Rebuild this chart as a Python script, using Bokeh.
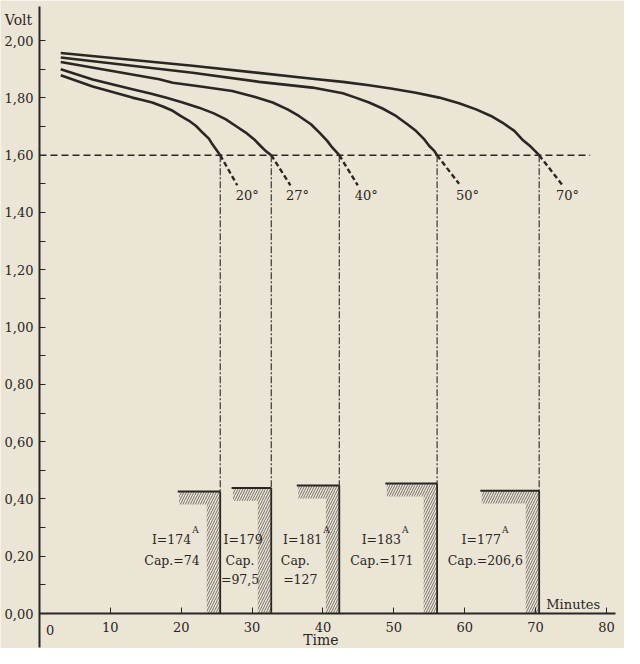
from bokeh.plotting import figure
from bokeh.models import Range1d, LinearAxis, FixedTicker, CustomJSTickFormatter
from bokeh.core.properties import value
from bokeh.embed import file_html
from bokeh.resources import INLINE

# ---- data ----
temps = ["20°", "27°", "40°", "50°", "70°"]

c20_t = [3.0, 7.5, 13.1, 14.5, 15.9, 17.4, 18.8, 19.9, 21.1, 22.1, 23.0, 23.9, 24.4, 25.0, 25.5]
c20_v = [1.879, 1.840, 1.801, 1.793, 1.784, 1.770, 1.755, 1.737, 1.720, 1.702, 1.679, 1.658, 1.638, 1.617, 1.600]
c27_t = [3.0, 7.5, 13.1, 15.5, 17.8, 20.2, 22.5, 24.6, 26.3, 27.7, 29.1, 30.3, 31.2, 31.9, 32.7]
c27_v = [1.900, 1.864, 1.830, 1.816, 1.801, 1.784, 1.766, 1.746, 1.725, 1.702, 1.679, 1.655, 1.632, 1.615, 1.600]
c40_t = [3.0, 16.9, 18.8, 23.0, 27.2, 30.3, 32.9, 35.0, 36.6, 38.3, 39.5, 40.6, 41.3, 42.3]
c40_v = [1.925, 1.865, 1.853, 1.839, 1.824, 1.804, 1.784, 1.760, 1.737, 1.708, 1.679, 1.650, 1.627, 1.600]
c50_t = [3.0, 21.6, 31.0, 38.5, 42.8, 44.6, 46.5, 48.4, 50.3, 51.9, 53.1, 54.3, 55.0, 55.7, 56.1]
c50_v = [1.941, 1.888, 1.856, 1.836, 1.816, 1.801, 1.784, 1.763, 1.737, 1.708, 1.685, 1.655, 1.632, 1.615, 1.600]
c70_t = [3.0, 21.6, 38.5, 42.8, 46.5, 49.8, 53.1, 56.4, 59.2, 61.6, 63.7, 65.3, 67.0, 68.1, 69.3, 70.5]
c70_v = [1.957, 1.912, 1.867, 1.856, 1.844, 1.832, 1.818, 1.801, 1.781, 1.760, 1.737, 1.714, 1.685, 1.655, 1.630, 1.600]

end_t = [25.5, 32.7, 42.3, 56.1, 70.5]          # minutes to reach 1,60 V
cutoff_v = 1.60
cont_t = [27.9, 35.4, 44.9, 59.2, 73.8]         # dashed continuation ends
cont_v = [1.495, 1.495, 1.495, 1.500, 1.495]
deg_t = [29.3, 36.4, 46.1, 60.4, 74.5]
deg_v = 1.461
hline_end = 77.7

bar_left = [19.5, 27.1, 36.3, 48.8, 62.2]
bar_top = [0.426, 0.438, 0.447, 0.454, 0.429]

i_text = ["I=174", "I=179", "I=181", "I=183", "I=177"]
i_right = [21.4, 31.5, 39.9, 51.0, 65.1]
i_sup = ["A", "", "A", "A", "A"]
cap_text = ["Cap.=74", "Cap.", "Cap.", "Cap.=171", "Cap.=206,6"]
cap_x = [18.7, 28.3, 36.1, 48.3, 62.9]
cap2_text = ["=97,5", "=127"]
cap2_x = [28.3, 36.8]

y_ticks = [0.0, 0.2, 0.4, 0.6, 0.8, 1.0, 1.2, 1.4, 1.6, 1.8, 2.0]
y_minor = [0.1, 0.3, 0.5, 0.7, 0.9, 1.1, 1.3, 1.5, 1.7, 1.9]
x_ticks = [0, 10, 20, 30, 40, 50, 60, 70, 80]

# ---- styling ----
INK = "#2a2723"
PAPER = "#ebe5d6"
HATCH = "#55504a"
FONT = "DejaVu Serif"

p = figure(width=624, height=648, output_backend="svg", toolbar_location=None,
           x_range=Range1d(-5.50, 82.54), y_range=Range1d(-0.122, 2.14),
           x_axis_location=None, y_axis_location=None,
           min_border=0, outline_line_color=None,
           background_fill_color=PAPER, border_fill_color=PAPER)
p.xgrid.visible = False
p.ygrid.visible = False

yax = LinearAxis(ticker=FixedTicker(ticks=y_ticks, minor_ticks=y_minor),
                 formatter=CustomJSTickFormatter(code="return tick.toFixed(2).replace('.', ',')"))
yax.fixed_location = 0
yax.bounds = (-0.12, 2.12)
yax.major_tick_in = 6
yax.major_tick_out = 0
yax.minor_tick_in = 6
yax.minor_tick_out = 0
yax.axis_line_width = 2
yax.axis_line_color = INK
yax.major_tick_line_color = INK
yax.minor_tick_line_color = INK
yax.major_label_standoff = 6
yax.major_label_text_font = FONT
yax.major_label_text_font_size = "13px"
yax.major_label_text_color = INK
p.add_layout(yax, "left")

xax = LinearAxis(ticker=FixedTicker(ticks=x_ticks, minor_ticks=[]),
                 formatter=CustomJSTickFormatter(code="return tick == 0 ? '' : tick.toFixed(0)"))
xax.fixed_location = 0
xax.bounds = (0, 81.3)
xax.major_tick_in = 6
xax.major_tick_out = 0
xax.axis_line_width = 2
xax.axis_line_color = INK
xax.major_tick_line_color = INK
xax.major_label_standoff = 8
xax.major_label_text_font = FONT
xax.major_label_text_font_size = "13px"
xax.major_label_text_color = INK
p.add_layout(xax, "below")

# horizontal 1,60 V line
p.segment(x0=[0], y0=[cutoff_v], x1=[hline_end], y1=[cutoff_v],
          line_color=INK, line_width=1.5, line_dash="7 4")

# bars (inverted L shapes, hatched)
n = len(end_t)
p.quad(left=[l + 0.2 for l in bar_left], right=end_t,
       top=bar_top, bottom=[t - 0.045 for t in bar_top],
       fill_color=None, line_color=None, hatch_pattern="/",
       hatch_color=HATCH, hatch_scale=5, hatch_weight=0.8)
p.quad(left=[e - 1.9 for e in end_t], right=end_t,
       top=[t - 0.045 for t in bar_top], bottom=[0] * n,
       fill_color=None, line_color=None, hatch_pattern="/",
       hatch_color=HATCH, hatch_scale=5, hatch_weight=0.8)
p.segment(x0=bar_left, y0=bar_top, x1=end_t, y1=bar_top,
          line_color=INK, line_width=2)
p.segment(x0=end_t, y0=bar_top, x1=end_t, y1=[0] * n,
          line_color=INK, line_width=1.8)

# vertical dash-dot lines from the 1,60 points down to the bars
p.segment(x0=end_t, y0=[cutoff_v] * n, x1=end_t, y1=bar_top,
          line_color=INK, line_width=1.1, line_dash="7 2 2 2")

# discharge curves
for ct, cv in [(c20_t, c20_v), (c27_t, c27_v), (c40_t, c40_v),
               (c50_t, c50_v), (c70_t, c70_v)]:
    p.line(ct, cv, line_color=INK, line_width=2.6, line_join="round")

# dashed continuation below 1,60
p.segment(x0=end_t, y0=[cutoff_v] * n, x1=cont_t, y1=cont_v,
          line_color=INK, line_width=2.4, line_dash="5 3")

# temperature labels
p.text(x=deg_t, y=[deg_v] * n, text=temps, text_font=value(FONT),
       text_font_size="13px", text_color=INK, text_align="center",
       text_baseline="middle")

# current / capacity labels
p.text(x=i_right, y=[0.259] * n, text=i_text, text_font=value(FONT),
       text_font_size="12.5px", text_color=INK, text_align="right",
       text_baseline="middle")
p.text(x=i_right, y=[0.259] * n, text=i_sup, text_font=value(FONT),
       text_font_size="9px", text_color=INK, text_align="left",
       text_baseline="middle", x_offset=1, y_offset=-9)
p.text(x=cap_x, y=[0.186] * n, text=cap_text, text_font=value(FONT),
       text_font_size="12.5px", text_color=INK, text_align="center",
       text_baseline="middle")
p.text(x=cap2_x, y=[0.12] * 2, text=cap2_text, text_font=value(FONT),
       text_font_size="12.5px", text_color=INK, text_align="center",
       text_baseline="middle")

# axis titles and extra labels
p.text(x=[-2.96], y=[2.073], text=["Volt"], text_font=value(FONT),
       text_font_size="14px", text_color=INK, text_align="center",
       text_baseline="middle")
p.text(x=[75.3], y=[0.0325], text=["Minutes"], text_font=value(FONT),
       text_font_size="13px", text_color=INK, text_align="center",
       text_baseline="middle")
p.text(x=[1.5], y=[-0.056], text=["0"], text_font=value(FONT),
       text_font_size="13px", text_color=INK, text_align="center",
       text_baseline="middle")
p.text(x=[39.7], y=[-0.121], text=["Time"], text_font=value(FONT),
       text_font_size="14px", text_color=INK, text_align="center",
       text_baseline="bottom")

open("out.html", "w").write(file_html(p, INLINE))
